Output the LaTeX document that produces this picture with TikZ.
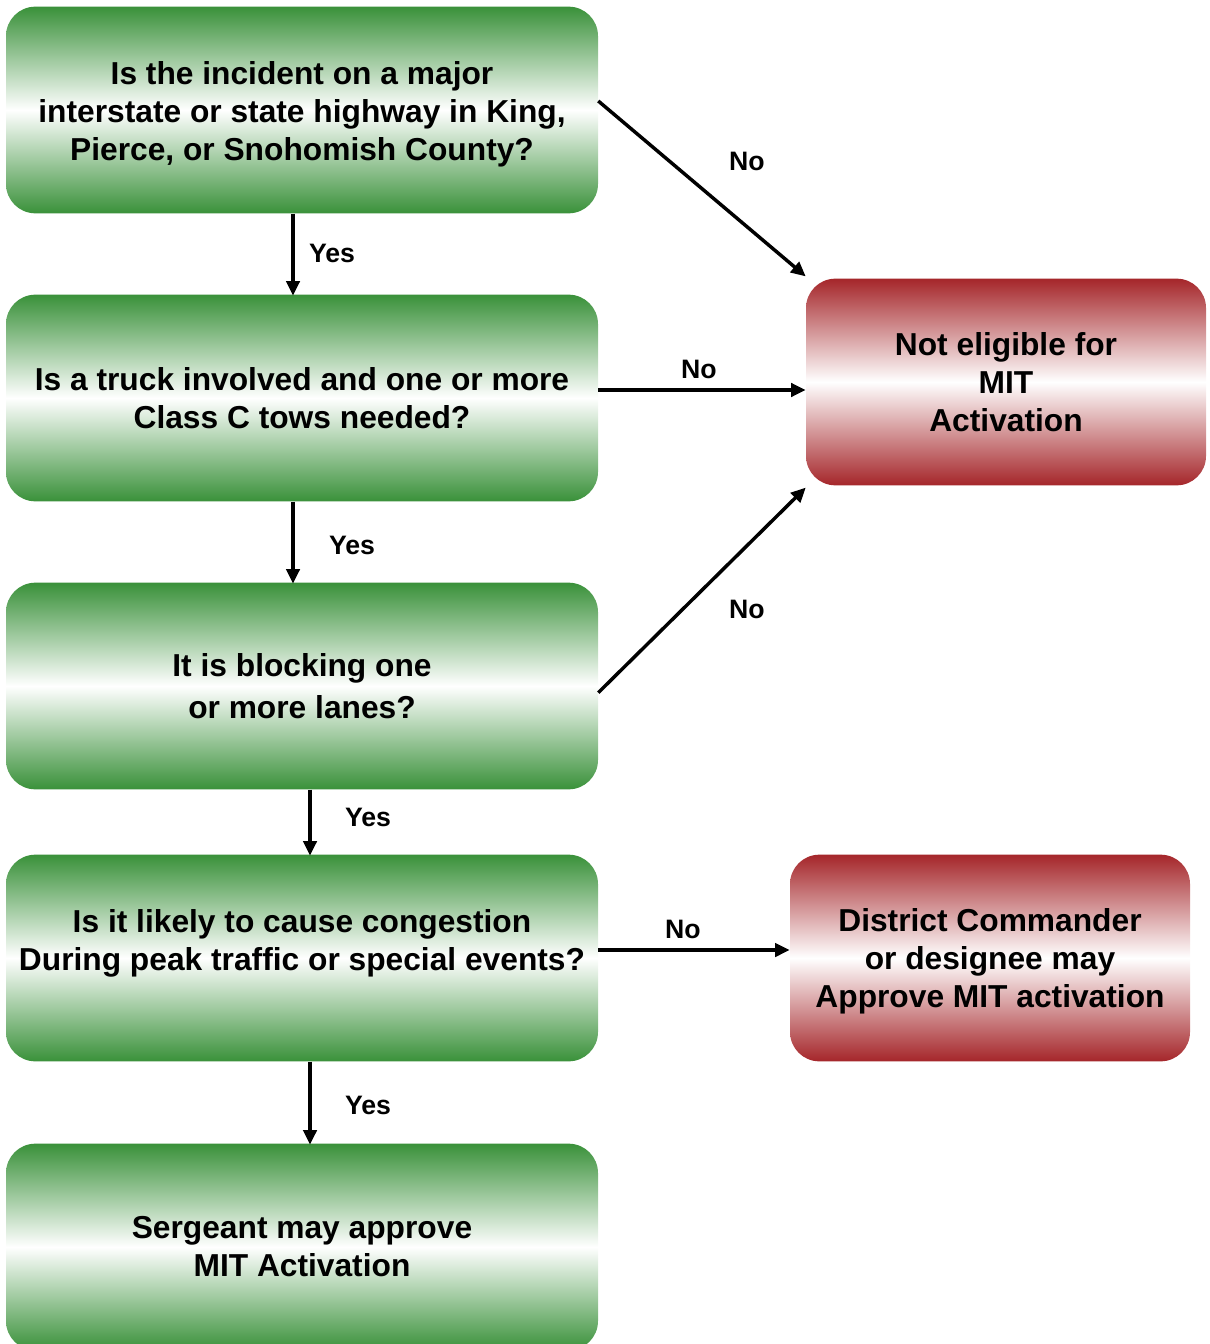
\documentclass[tikz,border=0pt]{standalone}
\usepackage{fontspec}
\setmainfont{Liberation Sans}
\usetikzlibrary{arrows.meta}
\definecolor{gr}{RGB}{58,145,58}
\definecolor{rd}{RGB}{165,38,42}
\begin{document}
\begin{tikzpicture}[x=0.75pt,y=-0.75pt,
  box/.style={rounded corners=22pt,minimum width=444pt,minimum height=155pt,align=center,
    font=\bfseries\fontsize{23.8}{28.5}\selectfont,inner sep=0pt},
  gbox/.style={box,top color=gr,bottom color=gr,middle color=white},
  rbox/.style={box,minimum width=300pt,top color=rd,bottom color=rd,middle color=white},
  txt/.style={align=center,font=\bfseries\fontsize{23.8}{28.5}\selectfont,inner sep=0pt},
  arr/.style={line width=2.6pt,-{Triangle[length=11pt,width=10pt]}},
  lbl/.style={font=\bfseries\fontsize{20}{22}\selectfont,inner sep=0pt}]
\clip (0,0) rectangle (1209,1344);
\node[gbox] (b1) at (302,110) {};
\node[txt] (b1t) at (302,114) {Is the incident on a major\\interstate or state highway in King,\\Pierce, or Snohomish County?};
\node[gbox] (b2) at (302,398) {Is a truck involved and one or more\\Class C tows needed?};
\node[gbox,font=\bfseries\fontsize{23.8}{32}\selectfont] (b3) at (302,686) {It is blocking one\\or more lanes?};
\node[gbox] (b4) at (302,958) {};
\node[txt] (b4t) at (302,943) {Is it likely to cause congestion\\During peak traffic or special events?};
\node[gbox] (b5) at (302,1247) {Sergeant may approve\\MIT Activation};
\node[rbox] (r1) at (1006,382) {Not eligible for\\MIT\\Activation};
\node[rbox] (r2) at (990,958) {};
\node[txt] (r2t) at (990,961) {District Commander\\or designee may\\Approve MIT activation};

\draw[arr] ([xshift=-6.75pt]b1.south) -- ([xshift=-6.75pt,yshift=-1pt]b2.north);
\draw[arr] ([xshift=-6.75pt]b2.south) -- ([xshift=-6.75pt,yshift=-1pt]b3.north);
\draw[arr] ([xshift=6pt]b3.south) -- ([xshift=6pt,yshift=-1pt]b4.north);
\draw[arr] ([xshift=6pt]b4.south) -- ([xshift=6pt,yshift=-1pt]b5.north);

\draw[arr] ([yshift=6.75pt]b1.east) -- ([yshift=1.5pt]r1.north west);
\coordinate (a2) at ([yshift=6pt]b2.east);
\draw[arr] (a2) -- (a2 -| r1.west);
\draw[arr] ([yshift=-5pt]b3.east) -- ([yshift=-1.5pt]r1.south west);
\coordinate (a4) at ([yshift=6pt]b4.east);
\draw[arr] (a4) -- (a4 -| r2.west);

\node[lbl] (y1) at (332,253) {Yes};
\node[lbl] (y2) at (352,545) {Yes};
\node[lbl] (y3) at (368,817) {Yes};
\node[lbl] (y4) at (368,1105) {Yes};
\node[lbl] (n1) at (747,161) {No};
\node[lbl] (n2) at (699,369) {No};
\node[lbl] (n3) at (747,609) {No};
\node[lbl] (n4) at (683,929) {No};
\end{tikzpicture}
\end{document}
